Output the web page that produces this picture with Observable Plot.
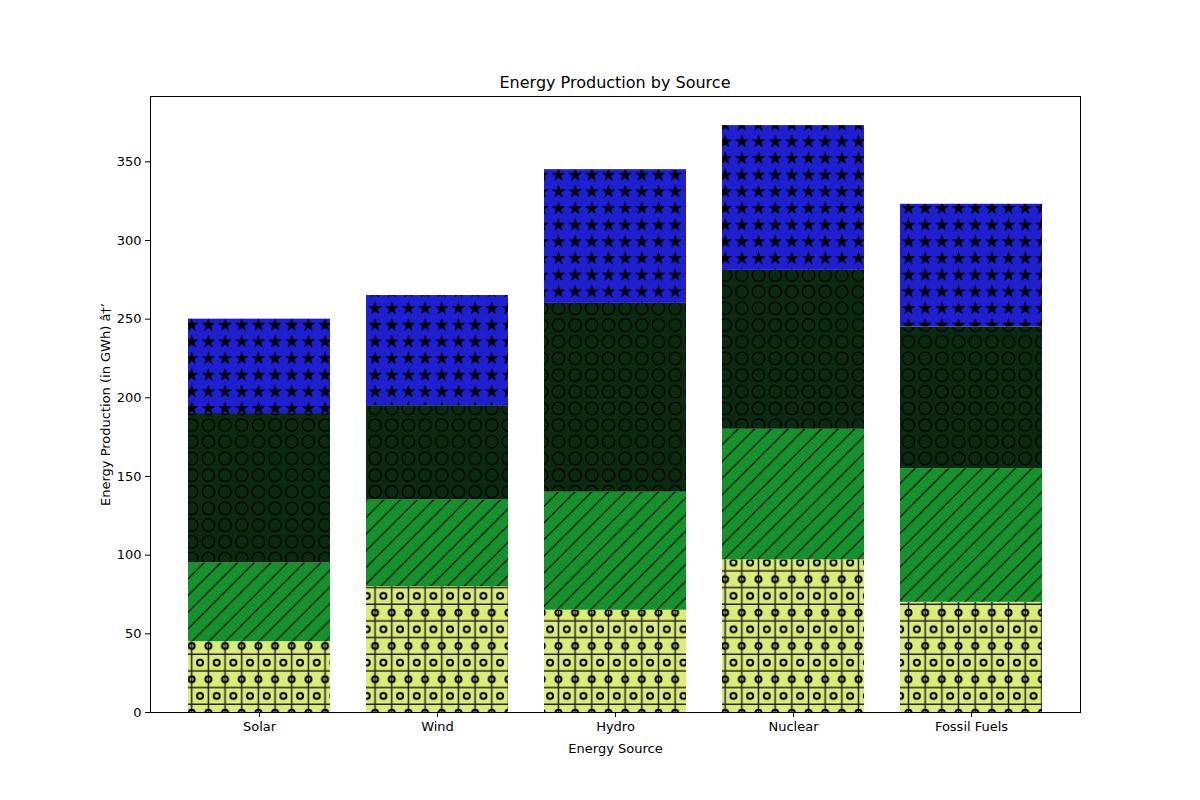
<!DOCTYPE html>
<html><head>
<script src="https://cdn.jsdelivr.net/npm/d3@7"></script>
<script src="https://cdn.jsdelivr.net/npm/@observablehq/plot@0.6"></script>
<style>body{margin:0;background:#fff;font-family:"DejaVu Sans",sans-serif}</style>
</head><body><div id="chart"></div>
<script>
const sources = ["Solar","Wind","Hydro","Nuclear","Fossil Fuels"];
const layer1 = [45, 80, 65, 97, 70];
const layer2 = [50, 55, 75, 83, 85];
const layer3 = [95, 60, 120, 101, 90];
const layer4 = [60, 70, 85, 92, 78];
const layers = [layer1, layer2, layer3, layer4];
const fills = ["url(#p1)","url(#p2)","url(#p3)","url(#p4)"];
const yTicks = [0,50,100,150,200,250,300,350];

const marks = [];
const base = sources.map(() => 0);
layers.forEach((vals, li) => {
  const data = sources.map((s, i) => ({source: s, y1: base[i], y2: base[i] + vals[i]}));
  data.forEach((d, i) => base[i] = d.y2);
  marks.push(Plot.barY(data, {x: "source", y1: "y1", y2: "y2", fill: fills[li]}));
});
marks.push(Plot.frame({stroke: "black"}));

const plot = Plot.plot({
  width: 1200, height: 800,
  marginLeft: 150, marginRight: 120, marginTop: 96, marginBottom: 88,
  style: {fontSize: "13px", fontFamily: "DejaVu Sans, sans-serif", color: "black", background: "white"},
  x: {domain: sources, paddingInner: 0.2, paddingOuter: 0.2, label: "Energy Source", labelAnchor: "center", labelOffset: 40, tickSize: 5, tickPadding: 4},
  y: {domain: [0, 391.5], ticks: yTicks, label: "Energy Production (in GWh)", labelAnchor: "center", labelOffset: 50, tickSize: 5, tickPadding: 4},
  marks
});

const svg = d3.select(plot);
const defs = svg.insert("defs", ":first-child");
const S = 16.67;
// pattern 1: +o on yellow
let p = defs.append("pattern").attr("id","p1").attr("patternUnits","userSpaceOnUse").attr("width",S).attr("height",2*S);
p.append("rect").attr("width",S).attr("height",2*S).attr("fill","#dcec78");
p.append("line").attr("x1",S/2).attr("x2",S/2).attr("y1",0).attr("y2",2*S).attr("stroke","#222").attr("stroke-width",1.5);
[S*0.25, S*1.25].forEach(y=>p.append("line").attr("x1",0).attr("x2",S).attr("y1",y).attr("y2",y).attr("stroke","#222").attr("stroke-width",1.5));
[[S/2, S*0.75+S*0.0],[0, S*1.75],[S, S*1.75]].forEach(([x,y])=>p.append("circle").attr("cx",x).attr("cy",y).attr("r",3).attr("fill","none").attr("stroke","black").attr("stroke-width",2));
// pattern 2: / on green
p = defs.append("pattern").attr("id","p2").attr("patternUnits","userSpaceOnUse").attr("width",S).attr("height",S);
p.append("rect").attr("width",S).attr("height",S).attr("fill","#15922d");
p.append("path").attr("d",`M0,${S} L${S},0 M${-S/2},${S/2} L${S/2},${-S/2} M${S/2},${S*1.5} L${S*1.5},${S/2}`).attr("stroke","black").attr("stroke-width",1.2);
// pattern 3: O on dark green
p = defs.append("pattern").attr("id","p3").attr("patternUnits","userSpaceOnUse").attr("width",S).attr("height",S);
p.append("rect").attr("width",S).attr("height",S).attr("fill","#0b2a10");
p.append("circle").attr("cx",S/2).attr("cy",S/2).attr("r",6.2).attr("fill","none").attr("stroke","black").attr("stroke-width",1.2);
// pattern 4: stars on blue
p = defs.append("pattern").attr("id","p4").attr("patternUnits","userSpaceOnUse").attr("width",S).attr("height",S);
p.append("rect").attr("width",S).attr("height",S).attr("fill","#1f1fd2");
const star = d3.symbol(d3.symbolStar, 60)();
p.append("path").attr("d",star).attr("transform",`translate(${S/2},${S/2})`).attr("fill","black");

svg.append("text").attr("x",615).attr("y",88).attr("text-anchor","middle").attr("font-size","16px").attr("fill","black").text("Energy Production by Source");
document.getElementById("chart").appendChild(plot);
</script></body></html>
